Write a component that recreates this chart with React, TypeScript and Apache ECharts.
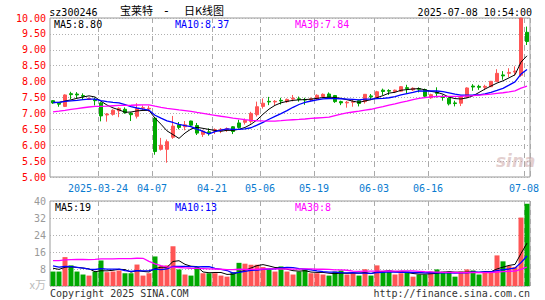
import React, { useEffect, useRef } from 'react';
import * as echarts from 'echarts';

// Trading days shown (2025)
const dates = [
  '2025-03-12','2025-03-13','2025-03-14','2025-03-17','2025-03-18','2025-03-19','2025-03-20','2025-03-21','2025-03-24','2025-03-25',
  '2025-03-26','2025-03-27','2025-03-28','2025-03-31','2025-04-01','2025-04-02','2025-04-03','2025-04-07','2025-04-08','2025-04-09',
  '2025-04-10','2025-04-11','2025-04-14','2025-04-15','2025-04-16','2025-04-17','2025-04-18','2025-04-21','2025-04-22','2025-04-23',
  '2025-04-24','2025-04-25','2025-04-28','2025-04-29','2025-04-30','2025-05-06','2025-05-07','2025-05-08','2025-05-09','2025-05-12',
  '2025-05-13','2025-05-14','2025-05-15','2025-05-16','2025-05-19','2025-05-20','2025-05-21','2025-05-22','2025-05-23','2025-05-26',
  '2025-05-27','2025-05-28','2025-05-29','2025-05-30','2025-06-03','2025-06-04','2025-06-05','2025-06-06','2025-06-09','2025-06-10',
  '2025-06-11','2025-06-12','2025-06-13','2025-06-16','2025-06-17','2025-06-18','2025-06-19','2025-06-20','2025-06-23','2025-06-24',
  '2025-06-25','2025-06-26','2025-06-27','2025-06-30','2025-07-01','2025-07-02','2025-07-03','2025-07-04','2025-07-07','2025-07-08',
];

const openP = [
  7.40,7.32,7.22,7.62,7.61,7.56,7.44,7.44,7.33,6.95,
  6.97,7.08,7.13,7.01,6.91,7.16,7.14,6.85,5.87,5.87,
  6.25,6.64,6.58,6.76,6.62,6.34,6.42,6.44,6.45,6.48,
  6.58,6.70,6.72,6.75,6.96,7.22,7.38,7.36,7.41,7.37,
  7.45,7.46,7.44,7.43,7.45,7.53,7.61,7.56,7.37,7.33,
  7.35,7.40,7.37,7.55,7.49,7.73,7.72,7.69,7.70,7.81,
  7.74,7.78,7.75,7.49,7.66,7.52,7.48,7.33,7.32,7.51,
  7.86,7.85,7.82,7.84,8.00,8.21,8.26,8.30,8.20,9.55,
];
const closeP = [
  7.33,7.29,7.58,7.59,7.58,7.54,7.47,7.40,6.92,6.98,
  7.10,7.16,7.02,6.96,7.15,7.18,7.16,5.80,6.00,6.11,
  6.60,6.56,6.64,6.63,6.38,6.44,6.39,6.49,6.50,6.52,
  6.43,6.56,6.78,7.00,7.21,7.32,7.36,7.38,7.39,7.44,
  7.48,7.44,7.42,7.46,7.57,7.60,7.50,7.37,7.33,7.35,
  7.37,7.31,7.60,7.52,7.68,7.69,7.70,7.73,7.84,7.78,
  7.79,7.76,7.54,7.59,7.63,7.50,7.30,7.31,7.53,7.80,
  7.83,7.82,7.85,8.01,8.26,8.18,8.29,8.33,10.00,9.26,
];
const lowP = [
  7.30,7.21,7.20,7.45,7.47,7.43,7.42,7.25,6.75,6.74,
  6.93,6.88,6.99,6.76,6.84,7.09,7.05,5.70,5.83,5.45,
  6.20,6.50,6.47,6.60,6.32,6.26,6.30,6.35,6.38,6.42,
  6.35,6.52,6.65,6.68,6.90,7.15,7.26,7.26,7.28,7.33,
  7.38,7.37,7.27,7.39,7.42,7.48,7.48,7.33,7.26,7.18,
  7.21,7.22,7.31,7.42,7.47,7.58,7.58,7.64,7.68,7.62,
  7.70,7.66,7.50,7.46,7.50,7.40,7.25,7.22,7.23,7.49,
  7.71,7.74,7.73,7.83,7.99,8.06,8.14,8.19,8.15,9.15,
];
const highP = [
  7.42,7.36,7.60,7.68,7.67,7.63,7.50,7.50,7.36,7.01,
  7.13,7.19,7.19,7.03,7.32,7.25,7.24,6.86,6.23,6.18,
  6.92,6.73,6.76,6.77,6.70,6.48,6.53,6.53,6.54,6.56,
  6.60,6.80,6.84,7.05,7.37,7.47,7.52,7.42,7.49,7.47,
  7.58,7.53,7.49,7.50,7.60,7.63,7.66,7.58,7.40,7.39,
  7.44,7.43,7.61,7.61,7.71,7.78,7.76,7.75,7.86,7.90,
  7.82,7.82,7.78,7.62,7.82,7.58,7.50,7.40,7.55,7.82,
  7.92,7.90,7.90,8.02,8.39,8.33,8.42,8.48,10.00,9.73,
];
// volume, 万手
const volume = [
  6.8,6.8,13.6,9.7,6.8,5.4,4.9,6.8,12.0,6.5,
  6.8,7.3,6.0,6.0,10.1,4.9,6.0,13.9,9.4,9.7,
  18.7,7.8,5.4,4.9,8.9,6.0,6.0,6.0,4.9,4.4,
  6.5,10.9,10.5,10.0,10.0,8.9,7.8,6.8,9.2,6.8,
  5.4,6.8,7.8,6.0,6.0,5.4,4.9,6.8,7.3,5.4,
  6.0,4.9,7.9,4.9,9.7,6.8,6.8,5.4,6.0,6.8,
  4.4,5.4,5.4,6.8,7.8,6.8,6.8,4.4,6.8,7.8,
  7.3,5.4,6.5,6.5,14.4,11.6,9.4,8.9,32.2,38.7,
];
// estimated sessions before the visible window (needed for the moving averages)
const priorCloses = [
  6.72,6.75,6.70,6.78,6.80,6.76,6.82,6.85,6.80,6.78,6.83,6.88,6.90,6.95,
  7.02,7.10,7.15,7.08,7.18,7.22,
  7.25,7.30,7.38,7.42,7.35,7.30,7.36,7.40,7.34,
];
const priorVolumes = [
  5.5,5.0,4.8,5.6,5.2,5.8,5.0,4.6,5.4,5.9,5.1,5.3,5.7,5.6,5.5,
  50,48,35,28,22,
  12.5,11.0,10.2,10.0,9.3,
  9.5,8.6,8.4,8.5,
];

const stockCode = 'sz300246';
const titleParts = ['宝莱特', '-', '日K线图'];
const timeStamp = '2025-07-08 10:54:00';
const labelDates = ['2025-03-24','2025-04-07','2025-04-21','2025-05-06','2025-05-19','2025-06-03','2025-06-16','2025-07-08'];
const priceLegend = ['MA5:8.80', 'MA10:8.37', 'MA30:7.84'];
const volLegend = ['MA5:19', 'MA10:13', 'MA30:8'];

function movingAverage(hist: number[], data: number[], n: number) {
  const all = hist.concat(data);
  return data.map((_, i) => {
    const end = hist.length + i;
    let s = 0;
    for (let k = end - n + 1; k <= end; k++) s += all[k];
    return +(s / n).toFixed(3);
  });
}

const RED = '#ff5555';
const GREEN = '#00a800';
const MONO = 'DejaVu Sans Mono';
const CJK = 'Noto Sans CJK SC';
const MA_COLORS = ['#000000', '#0000ff', '#ff00ff'];

export default function App() {
  const ref = useRef<HTMLDivElement>(null);
  useEffect(() => {
    document.body.style.margin = '0';
    const chart = echarts.init(ref.current!, null, { renderer: 'svg' });
    const labelIdx = new Set(labelDates.map((d) => dates.indexOf(d)));
    const ivl = (i: number) => labelIdx.has(i);
    const ma = [5, 10, 30].map((n) => movingAverage(priorCloses, closeP, n));
    const vma = [5, 10, 30].map((n) => movingAverage(priorVolumes, volume, n));
    const vSplit = { show: true, interval: ivl, lineStyle: { color: '#aaaaaa', type: [5, 4], width: 1 } };
    const hSplit = { show: true, lineStyle: { color: '#b0b0b0', type: [1, 2], width: 1 } };
    const txt = (text: string, x: number, y: number, fill: string, align = 'left', font = `10px "${MONO}"`) => ({
      type: 'text', x, y, silent: true, z: 100,
      style: { text, fill, font, textAlign: align, textVerticalAlign: 'middle' },
    });
    const option: any = {
      animation: false,
      grid: [
        { left: 50, top: 18, width: 480, height: 159, show: true, borderColor: '#999', borderWidth: 1 },
        { left: 50, top: 201, width: 480, height: 85, show: true, borderColor: '#999', borderWidth: 1 },
      ],
      xAxis: [
        {
          type: 'category', gridIndex: 0, data: dates, boundaryGap: true,
          axisLine: { show: false }, axisTick: { show: false },
          axisLabel: {
            interval: ivl, hideOverlap: false,
            formatter: (v: string) => (v === labelDates[0] ? v : v.slice(5)),
            color: '#0a7bd0', fontFamily: MONO, fontSize: 10, margin: 6, padding: [0, 6, 0, 0],
          },
          splitLine: vSplit,
        },
        {
          type: 'category', gridIndex: 1, data: dates, boundaryGap: true,
          axisLine: { show: false }, axisTick: { show: false }, axisLabel: { show: false },
          splitLine: vSplit,
        },
      ],
      yAxis: [
        {
          type: 'value', gridIndex: 0, min: 5, max: 10, interval: 0.5,
          axisLine: { show: false }, axisTick: { show: false },
          axisLabel: { color: '#ff0000', fontFamily: MONO, fontSize: 10, margin: 4, formatter: (v: number) => v.toFixed(2) },
          splitLine: hSplit,
        },
        {
          type: 'value', gridIndex: 1, min: 0, max: 40, interval: 8,
          axisLine: { show: false }, axisTick: { show: false },
          axisLabel: { color: '#999999', fontFamily: MONO, fontSize: 10, margin: 4, formatter: (v: number) => (v === 0 ? '' : String(v)) },
          splitLine: hSplit,
        },
      ],
      series: [
        {
          type: 'candlestick', xAxisIndex: 0, yAxisIndex: 0, barWidth: 4,
          data: dates.map((_, i) => [openP[i], closeP[i], lowP[i], highP[i]]),
          itemStyle: { color: RED, color0: GREEN, borderColor: RED, borderColor0: GREEN, borderWidth: 1 },
        },
        ...ma.map((d, k) => ({
          type: 'line', xAxisIndex: 0, yAxisIndex: 0, data: d, symbol: 'none', silent: true,
          lineStyle: { color: MA_COLORS[k], width: k === 0 ? 1 : 1.3 },
        })),
        {
          type: 'bar', xAxisIndex: 1, yAxisIndex: 1, barWidth: 5,
          data: volume.map((v, i) => ({ value: v, itemStyle: { color: closeP[i] >= openP[i] ? RED : GREEN } })),
        },
        ...vma.map((d, k) => ({
          type: 'line', xAxisIndex: 1, yAxisIndex: 1, data: d, symbol: 'none', silent: true,
          lineStyle: { color: MA_COLORS[k], width: k === 0 ? 1 : 1.3 },
        })),
      ],
      graphic: [
        txt(priceLegend[0], 54, 24, MA_COLORS[0]),
        txt(priceLegend[1], 175, 24, MA_COLORS[1]),
        txt(priceLegend[2], 295, 24, MA_COLORS[2]),
        txt(volLegend[0], 55, 207, MA_COLORS[0]),
        txt(volLegend[1], 175, 207, MA_COLORS[1]),
        txt(volLegend[2], 295, 207, MA_COLORS[2]),
        txt('Copyright 2025 SINA.COM', 50, 293, '#333'),
        txt('http://finance.sina.com.cn', 530, 293, '#333', 'right'),
        txt('x万', 46, 284, '#bbbbbb', 'right', `11px "${CJK}"`),
        txt('sina', 496, 161, 'rgba(200,160,160,0.5)', 'left', 'italic bold 17px "DejaVu Sans"'),
        txt(titleParts[0], 153, 10, '#000', 'right', `11px "${CJK}"`),
        txt(titleParts[1], 170, 11, '#000', 'right', `12px "${MONO}"`),
        txt(titleParts[2], 224, 10, '#000', 'right', `11px "${CJK}"`),
        txt(timeStamp, 532, 12, '#000', 'right'),
        txt(stockCode, 97.5, 12, '#000', 'right'),
      ],
    };
    chart.setOption(option);
    return () => chart.dispose();
  }, []);
  return <div ref={ref} style={{ width: 545, height: 300 }} />;
}
